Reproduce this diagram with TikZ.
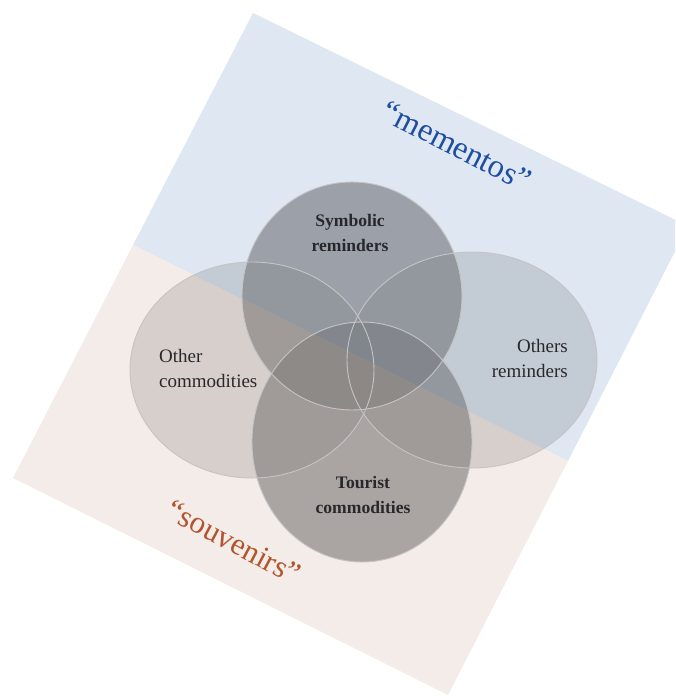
\documentclass[tikz,border=0pt]{standalone}
\usepackage{fontspec}
\setmainfont{Liberation Serif}
\definecolor{memfield}{RGB}{223,231,242}
\definecolor{souvfield}{RGB}{244,236,232}
% set tints: the field colour darkened by the set's grey
\definecolor{memdark}{RGB}{123,127,133}
\definecolor{memlight}{RGB}{169,176,184}
\definecolor{souvdark}{RGB}{134,130,128}
\definecolor{souvlight}{RGB}{185,179,176}
\definecolor{memtext}{RGB}{30,78,160}
\definecolor{souvtext}{RGB}{178,84,44}
\definecolor{labeltext}{RGB}{40,40,44}
\definecolor{rim}{RGB}{198,196,196}
\tikzset{
  darkset/.style={fill=#1, fill opacity=0.667},
  lightset/.style={fill=#1, fill opacity=0.5},
  rimline/.style={draw=rim, line width=0.9pt},
  boldlabel/.style={text=labeltext, font=\fontsize{17.6}{25}\selectfont\bfseries, align=center, inner sep=0pt},
  plainlabel/.style={text=labeltext, font=\fontsize{19}{24.5}\selectfont, inner sep=0pt},
  fieldlabel/.style={font=\fontsize{31}{31}\selectfont, rotate=-27, inner sep=0pt},
}
% the four sets, filled with the tints of one field
\newcommand\fillsets[2]{%
  \fill[lightset=#2] (cocom) ellipse [x radius=122pt, y radius=108pt];
  \fill[lightset=#2] (corem) ellipse [x radius=125pt, y radius=108pt];
  \fill[darkset=#1] (csym) ellipse [x radius=110pt, y radius=114pt];
  \fill[darkset=#1] (ctour) ellipse [x radius=110pt, y radius=120pt];
}
\begin{document}
\begin{tikzpicture}[x=1pt,y=-1pt]
\useasboundingbox (0,0) rectangle (675,696);
% corners of the tilted field, split in two halves
\coordinate (tl) at (253,13);
\coordinate (tr) at (688,226);
\coordinate (mr) at (568,461);
\coordinate (br) at (448,695);
\coordinate (bl) at (13,478);
\coordinate (ml) at (133,245);
% centres of the four sets
\coordinate (csym) at (352,296);
\coordinate (ctour) at (362,442);
\coordinate (cocom) at (252,370);
\coordinate (corem) at (472,360);

\begin{scope}
\clip (0,0) rectangle (675,696);
\fill[memfield] (tl) -- (tr) -- (mr) -- (ml) -- cycle;
\fill[souvfield] (ml) -- (mr) -- (br) -- (bl) -- cycle;
\end{scope}

% sets over the upper field
\begin{scope}
\clip (tl) -- (tr) -- (mr) -- (ml) -- cycle;
\fillsets{memdark}{memlight}
\end{scope}
% sets over the lower field
\begin{scope}
\clip (ml) -- (mr) -- (br) -- (bl) -- cycle;
\fillsets{souvdark}{souvlight}
\end{scope}

% outlines of the sets
\draw[rimline] (cocom) ellipse [x radius=122pt, y radius=108pt];
\draw[rimline] (corem) ellipse [x radius=125pt, y radius=108pt];
\draw[rimline] (csym) ellipse [x radius=110pt, y radius=114pt];
\draw[rimline] (ctour) ellipse [x radius=110pt, y radius=120pt];

% set labels
\node[boldlabel, anchor=base] (symlbl) at (350,251) {Symbolic\\reminders};
\node[boldlabel, anchor=base] (tourlbl) at (363,513) {Tourist\\commodities};
\node[plainlabel, align=left, anchor=base west] (ocomlbl) at (159,387) {Other\\commodities};
\node[plainlabel, align=right, anchor=base east] (oremlbl) at (568,377) {Others\\reminders};

% field labels
\node[fieldlabel, text=memtext, font=\fontsize{32.5}{32.5}\selectfont] (memlbl) at (457,146) {“mementos”};
\node[fieldlabel, text=souvtext, rotate=-1] (souvlbl) at (234,542) {“souvenirs”};
\end{tikzpicture}
\end{document}
